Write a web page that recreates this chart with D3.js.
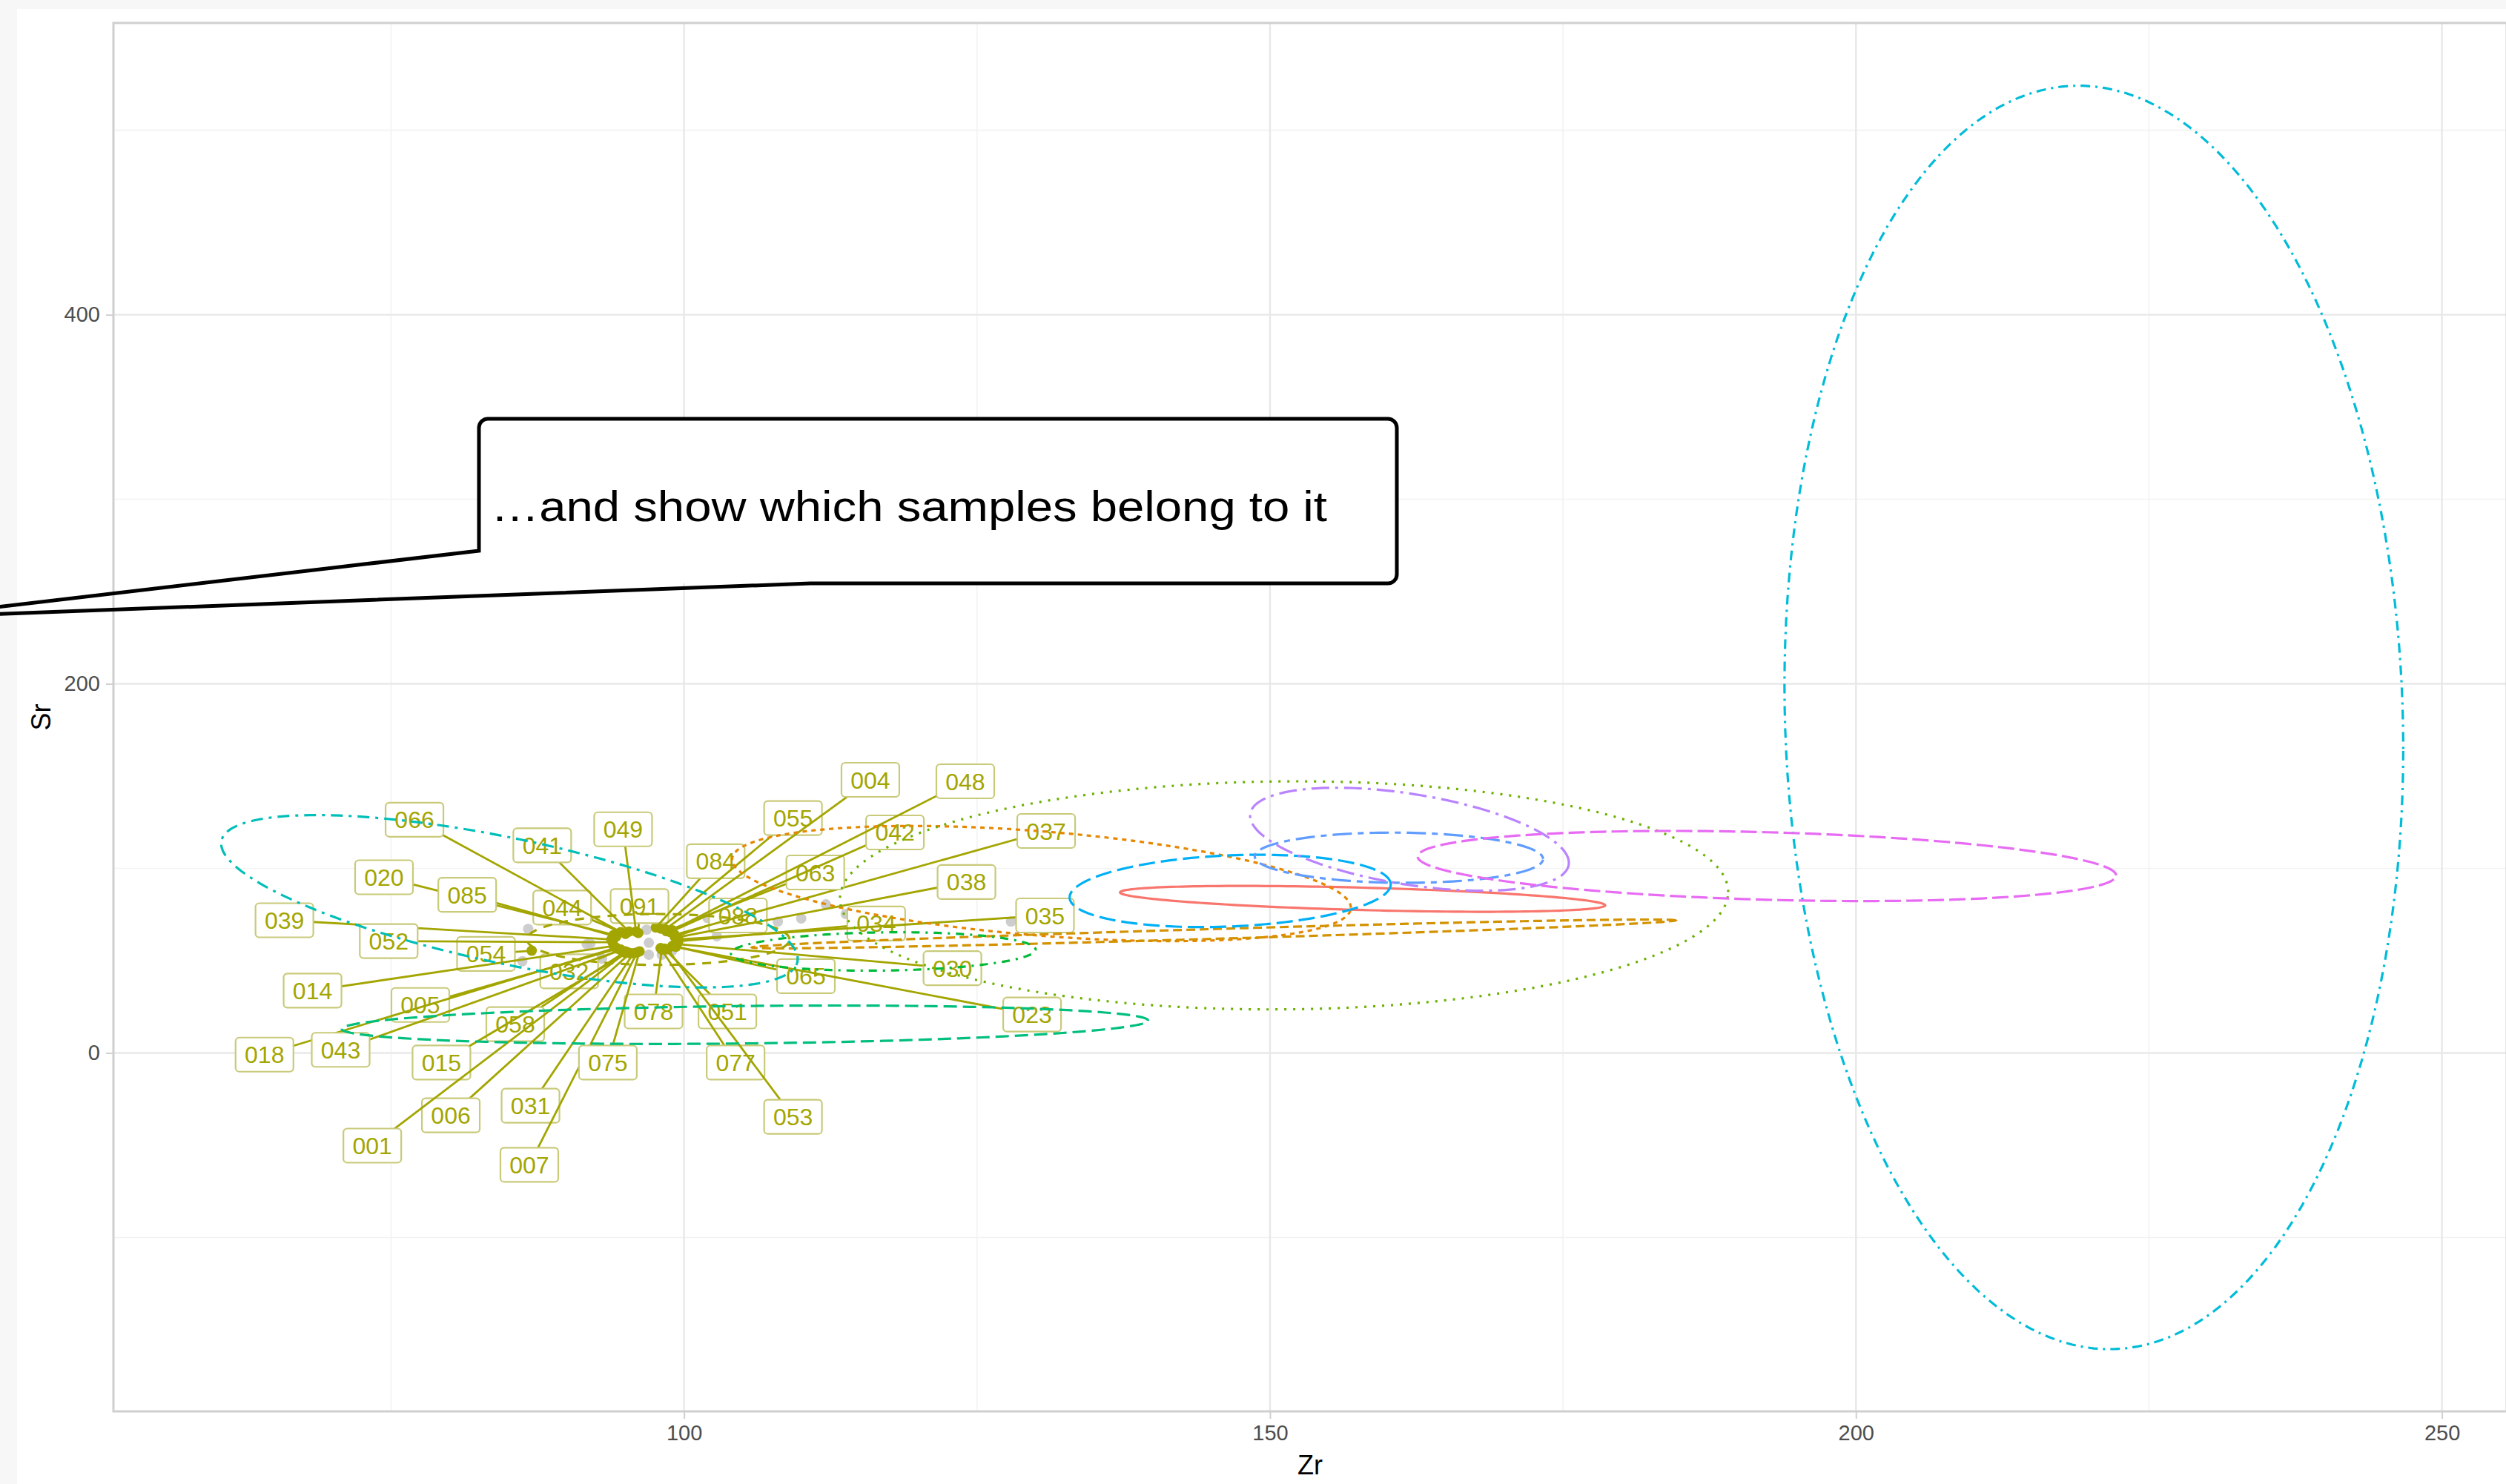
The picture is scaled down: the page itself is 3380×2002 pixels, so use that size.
<!DOCTYPE html>
<html>
<head>
<meta charset="utf-8">
<script src="https://cdn.jsdelivr.net/npm/d3@7"></script>
<style>
  html, body { margin: 0; padding: 0; background: #f7f7f7; }
  svg { display: block; }
  text { font-family: "Liberation Sans", Arial, Helvetica, sans-serif; }
</style>
</head>
<body>
<script>
// Tick values for both axes
var xTicks = [100, 150, 200, 250];
var xMinorTicks = [75, 125, 175, 225];
var yTicks = [0, 200, 400];
var yMinorTicks = [-100, 100, 300, 500];

// Labelled samples: point (Zr, Sr) and where the repelled label sits (Zr, Sr)
var sampleIds = ["044", "091", "088", "054", "032", "034", "078", "049", "041", "066",
  "020", "085", "039", "052", "014", "005", "058", "018", "043", "015",
  "006", "001", "031", "007", "075", "051", "077", "053", "065", "030",
  "023", "035", "038", "037", "063", "042", "084", "055", "004", "048"];
var sampleZr = [95.0, 96.1, 99.2, 87.0, 94.6, 99.5, 98.1, 95.9, 95.3, 94.6,
  94.0, 94.2, 93.8, 93.9, 94.0, 94.3, 95.0, 94.2, 94.6, 95.2,
  95.4, 95.0, 95.7, 96.0, 96.2, 98.3, 98.0, 98.6, 99.0, 99.4,
  99.3, 99.5, 99.3, 99.2, 98.5, 98.8, 97.6, 98.0, 98.4, 99.0];
var sampleSr = [64.5, 65.0, 63.0, 55.4, 56.0, 60.5, 56.0, 65.8, 65.8, 65.5,
  64.0, 63.0, 61.5, 60.0, 58.0, 56.5, 55.0, 57.0, 55.8, 54.5,
  54.0, 54.2, 54.0, 54.5, 55.0, 56.5, 56.8, 56.2, 58.0, 59.0,
  57.5, 61.5, 62.5, 64.0, 66.0, 65.5, 68.0, 67.5, 67.0, 66.5];
var labelZr = [89.6, 96.2, 104.6, 83.1, 90.2, 116.4, 97.4, 94.8, 87.9, 77.0,
  74.4, 81.5, 65.9, 74.8, 68.3, 77.5, 85.6, 64.2, 70.7, 79.3,
  80.1, 73.4, 86.9, 86.8, 93.5, 103.7, 104.4, 109.3, 110.4, 122.9,
  129.7, 130.8, 124.1, 130.9, 111.2, 118.0, 102.7, 109.3, 115.9, 124.0];
var labelSr = [78.8, 79.6, 74.5, 53.7, 44.2, 70.1, 22.5, 121.2, 112.5, 126.4,
  95.2, 85.7, 71.9, 60.6, 33.8, 26.0, 15.6, -0.9, 1.7, -5.2,
  -33.8, -50.2, -28.6, -60.6, -5.2, 22.5, -5.2, -34.6, 41.6, 45.9,
  20.8, 74.5, 92.6, 120.3, 97.8, 119.5, 103.9, 127.3, 148.0, 147.2];

// Other samples, drawn in grey
var otherZr = [96.8, 98.1, 97.0, 97.0, 98.1, 99.0, 92.0, 93.0, 86.2, 108.0,
  110.0, 112.1, 113.8, 127.9, 102.0, 102.8, 91.7, 86.7];
var otherSr = [66.8, 67.2, 59.7, 53.2, 53.2, 55.4, 59.2, 51.1, 49.7, 71.2,
  72.9, 80.5, 75.3, 71.2, 73.2, 63.2, 58.9, 67.2];

// Group ellipses: centre, half spread in Zr and Sr, correlation
var ellipseCx = [157.9, 130.5, 145.2, 97.8, 151.2, 117.0, 105.2, 85.1, 220.3, 146.6, 161.0, 161.9, 192.4];
var ellipseCy = [83.5, 91.8, 64.5, 61.5, 85.4, 55.0, 15.3, 82.2, 181.8, 87.8, 105.8, 115.8, 101.3];
var ellipseSx = [20.7, 26.4, 39.4, 11.2, 37.9, 13.0, 34.4, 24.6, 26.4, 13.7, 12.3, 13.6, 29.8];
var ellipseSy = [7.0, 31.2, 7.8, 13.8, 61.8, 10.4, 10.4, 46.7, 342.3, 19.6, 13.6, 27.9, 19.0];
var ellipseR = [-0.5, -0.42, 0.94, 0.0, 0.03, 0.1, 0.22, -0.67, -0.05, 0.18, -0.05, -0.457, -0.27];

// Colour and line type of each ellipse
var ellipseColors = ["#F8766D", "#E58700", "#D39200", "#A3A500", "#6BB100", "#00BA38", "#00BF7D",
  "#00BFB8", "#00BCD8", "#00B0F6", "#619CFF", "#B983FF", "#E76BF3"];
var ellipseDashes = [null, "6,6", "12,6", "12,10", "3,9", "3,8,11,8", "18,8",
  "4,8,16,8", "3,7,13,7", "22,8", "8,8,26,8", "24,8,4,8", "22,7"];

var labelColor = "#A3A500";

// Define SVG area dimensions
var svgWidth = 3380;
var svgHeight = 2002;

// Panel position
var margin = { top: 31, right: -1, bottom: 98, left: 153 };
var chartWidth = svgWidth - margin.left - margin.right;
var chartHeight = svgHeight - margin.top - margin.bottom;

var svg = d3.select("body")
  .append("svg")
  .attr("width", svgWidth)
  .attr("height", svgHeight);

// white page with a thin grey frame at top/left
svg.append("rect")
  .attr("x", 23).attr("y", 12)
  .attr("width", svgWidth - 23).attr("height", svgHeight - 12)
  .attr("fill", "#ffffff");

var chartGroup = svg.append("g")
  .attr("transform", `translate(${margin.left}, ${margin.top})`);

chartGroup.append("clipPath").attr("id", "panel-clip")
  .append("rect").attr("width", chartWidth).attr("height", chartHeight);

var xScale = d3.scaleLinear().domain([51.31, 255.53]).range([0, chartWidth]);
var yScale = d3.scaleLinear().domain([-194.19, 558.08]).range([chartHeight, 0]);

// grid lines
var grid = chartGroup.append("g");
grid.selectAll(".xminor").data(xMinorTicks).enter().append("line")
  .attr("x1", d => xScale(d)).attr("x2", d => xScale(d))
  .attr("y1", 0).attr("y2", chartHeight)
  .attr("stroke", "#f2f2f2").attr("stroke-width", 1.6);
grid.selectAll(".yminor").data(yMinorTicks).enter().append("line")
  .attr("y1", d => yScale(d)).attr("y2", d => yScale(d))
  .attr("x1", 0).attr("x2", chartWidth)
  .attr("stroke", "#f2f2f2").attr("stroke-width", 1.6);
grid.selectAll(".xmajor").data(xTicks).enter().append("line")
  .attr("x1", d => xScale(d)).attr("x2", d => xScale(d))
  .attr("y1", 0).attr("y2", chartHeight)
  .attr("stroke", "#e8e8e8").attr("stroke-width", 2.4);
grid.selectAll(".ymajor").data(yTicks).enter().append("line")
  .attr("y1", d => yScale(d)).attr("y2", d => yScale(d))
  .attr("x1", 0).attr("x2", chartWidth)
  .attr("stroke", "#e8e8e8").attr("stroke-width", 2.4);

var plot = chartGroup.append("g").attr("clip-path", "url(#panel-clip)");

// grey points for the other samples
plot.selectAll(".other").data(otherZr).enter().append("circle")
  .attr("cx", d => xScale(d))
  .attr("cy", (d, i) => yScale(otherSr[i]))
  .attr("r", 7)
  .attr("fill", "#c4c4c4")
  .attr("opacity", 0.85);

// highlighted sample points
plot.selectAll(".sample").data(sampleZr).enter().append("circle")
  .attr("cx", d => xScale(d))
  .attr("cy", (d, i) => yScale(sampleSr[i]))
  .attr("r", 7)
  .attr("fill", labelColor);

// segment + label for every sample, in order (later segments cross earlier labels)
var boxW = 78, boxH = 46;
sampleIds.forEach(function(id, i) {
  var g = plot.append("g");
  var lx = xScale(labelZr[i]), ly = yScale(labelSr[i]);
  g.append("line")
    .attr("x1", xScale(sampleZr[i])).attr("y1", yScale(sampleSr[i]))
    .attr("x2", lx).attr("y2", ly)
    .attr("stroke", labelColor).attr("stroke-width", 2.8);
  g.append("rect")
    .attr("x", lx - boxW / 2).attr("y", ly - boxH / 2)
    .attr("width", boxW).attr("height", boxH)
    .attr("rx", 5)
    .attr("fill", "#ffffff")
    .attr("stroke", "#c9ca7a").attr("stroke-width", 2.2);
  g.append("text")
    .attr("x", lx).attr("y", ly)
    .attr("dy", "0.36em")
    .attr("text-anchor", "middle")
    .attr("font-size", 32)
    .attr("fill", labelColor)
    .text(id);
});

// group ellipses
var ellipseSteps = d3.range(0, 360, 2).map(d => d * Math.PI / 180);
var ellipseLine = d3.line()
  .x(d => xScale(d[0]))
  .y(d => yScale(d[1]))
  .curve(d3.curveLinearClosed);

ellipseCx.forEach(function(cx, i) {
  var rr = ellipseR[i];
  var k = Math.sqrt(1 - rr * rr);
  var pts = ellipseSteps.map(t => [
    cx + ellipseSx[i] * Math.cos(t),
    ellipseCy[i] + ellipseSy[i] * (rr * Math.cos(t) + k * Math.sin(t))
  ]);
  plot.append("path")
    .attr("d", ellipseLine(pts))
    .attr("fill", "none")
    .attr("stroke", ellipseColors[i])
    .attr("stroke-width", 3.2)
    .attr("stroke-dasharray", ellipseDashes[i]);
});

// panel border
chartGroup.append("rect")
  .attr("width", chartWidth).attr("height", chartHeight)
  .attr("fill", "none")
  .attr("stroke", "#cfcfcf").attr("stroke-width", 3);

// axes
var bottomAxis = d3.axisBottom(xScale).tickValues(xTicks).tickSize(10).tickPadding(8);
var leftAxis = d3.axisLeft(yScale).tickValues(yTicks).tickSize(10).tickPadding(8);

var xAxisG = chartGroup.append("g")
  .attr("transform", "translate(0, " + chartHeight + ")")
  .call(bottomAxis);
var yAxisG = chartGroup.append("g").call(leftAxis);

[xAxisG, yAxisG].forEach(function(a) {
  a.select(".domain").remove();
  a.selectAll(".tick line").attr("stroke", "#d0d0d0").attr("stroke-width", 2);
  a.selectAll(".tick text")
    .attr("font-size", 29)
    .attr("font-family", "Liberation Sans, Arial, sans-serif")
    .attr("fill", "#4d4d4d");
});

// axis titles
svg.append("text")
  .attr("x", margin.left + chartWidth / 2)
  .attr("y", 1989)
  .attr("text-anchor", "middle")
  .attr("font-size", 36)
  .attr("fill", "#000")
  .text("Zr");

svg.append("text")
  .attr("transform", "translate(68, " + (margin.top + chartHeight / 2) + ") rotate(-90)")
  .attr("text-anchor", "middle")
  .attr("font-size", 36)
  .attr("fill", "#000")
  .text("Sr");

// callout bubble (annotation, pixel layout)
var bubble = { left: 646, top: 565, right: 1884, bottom: 787, radius: 12,
  tailTop: 743, tailBottomX: 1093, tipX: -125, tipY: 833 };
var bp = d3.path();
bp.moveTo(bubble.left, bubble.tailTop);
bp.lineTo(bubble.left, bubble.top + bubble.radius);
bp.arcTo(bubble.left, bubble.top, bubble.left + bubble.radius, bubble.top, bubble.radius);
bp.lineTo(bubble.right - bubble.radius, bubble.top);
bp.arcTo(bubble.right, bubble.top, bubble.right, bubble.top + bubble.radius, bubble.radius);
bp.lineTo(bubble.right, bubble.bottom - bubble.radius);
bp.arcTo(bubble.right, bubble.bottom, bubble.right - bubble.radius, bubble.bottom, bubble.radius);
bp.lineTo(bubble.tailBottomX, bubble.bottom);
bp.lineTo(bubble.tipX, bubble.tipY);
bp.closePath();

svg.append("rect")
  .attr("x", bubble.left).attr("y", bubble.top)
  .attr("width", bubble.right - bubble.left)
  .attr("height", bubble.bottom - bubble.top)
  .attr("rx", bubble.radius)
  .attr("fill", "#ffffff");

svg.append("path")
  .attr("d", bp.toString())
  .attr("fill", "none")
  .attr("stroke", "#000")
  .attr("stroke-width", 5);

svg.append("text")
  .attr("x", 662)
  .attr("y", 703)
  .attr("font-size", 57)
  .attr("fill", "#000")
  .attr("textLength", 1128)
  .attr("lengthAdjust", "spacingAndGlyphs")
  .text("\u2026and show which samples belong to it");
</script>
</body>
</html>
